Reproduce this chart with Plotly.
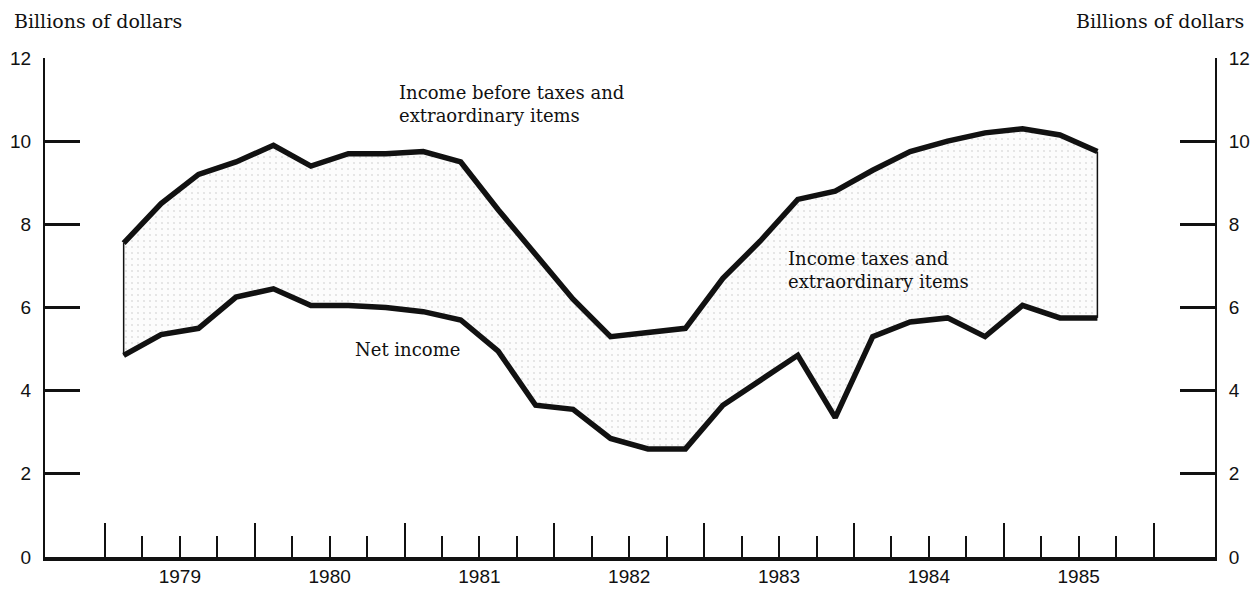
import plotly.graph_objects as go

# Quarterly observations, 1979:Q1 - 1985:Q3 (billions of dollars)
quarters = [
    "1979Q1", "1979Q2", "1979Q3", "1979Q4",
    "1980Q1", "1980Q2", "1980Q3", "1980Q4",
    "1981Q1", "1981Q2", "1981Q3", "1981Q4",
    "1982Q1", "1982Q2", "1982Q3", "1982Q4",
    "1983Q1", "1983Q2", "1983Q3", "1983Q4",
    "1984Q1", "1984Q2", "1984Q3", "1984Q4",
    "1985Q1", "1985Q2", "1985Q3",
]
income_before_taxes = [
    7.55, 8.5, 9.2, 9.5,
    9.9, 9.4, 9.7, 9.7,
    9.75, 9.5, 8.35, 7.25,
    6.2, 5.3, 5.4, 5.5,
    6.7, 7.6, 8.6, 8.8,
    9.3, 9.75, 10.0, 10.2,
    10.3, 10.15, 9.75,
]
net_income = [
    4.85, 5.35, 5.5, 6.25,
    6.45, 6.05, 6.05, 6.0,
    5.9, 5.7, 4.95, 3.65,
    3.55, 2.85, 2.6, 2.6,
    3.65, 4.25, 4.85, 3.35,
    5.3, 5.65, 5.75, 5.3,
    6.05, 5.75, 5.75,
]
year_ticks = [1979, 1980, 1981, 1982, 1983, 1984, 1985, 1986]
year_labels = ["1979", "1980", "1981", "1982", "1983", "1984", "1985"]
y_ticks = [0, 2, 4, 6, 8, 10, 12]

# Plot each quarter at the middle of its span on a continuous year scale
x = [int(q[:4]) + (int(q[-1]) - 0.5) / 4 for q in quarters]
quarter_marks = [y + k / 4 for y in year_ticks[:-1] for k in (1, 2, 3)]

INK = "#111111"
SERIF = "DejaVu Serif, Liberation Serif, serif"
SANS = "Liberation Sans, Arial, sans-serif"

fig = go.Figure()

# Stippled band between the two series
fig.add_trace(go.Scatter(x=x, y=income_before_taxes, mode="lines",
                         line=dict(width=0), hoverinfo="skip"))
fig.add_trace(go.Scatter(
    x=x, y=net_income, mode="lines", line=dict(width=0), fill="tonexty",
    fillcolor="rgba(0,0,0,0)",
    fillpattern=dict(shape=".", fgcolor="#c4c4c4", bgcolor="#fcfcfc",
                     size=6, solidity=0.1),
    hoverinfo="skip"))

# Thin closing edges at both ends of the band
for i in (0, -1):
    fig.add_trace(go.Scatter(x=[x[i], x[i]],
                             y=[net_income[i], income_before_taxes[i]],
                             mode="lines", line=dict(color=INK, width=1.5)))

# The two heavy series lines
fig.add_trace(go.Scatter(x=x, y=income_before_taxes, mode="lines",
                         line=dict(color=INK, width=5.5)))
fig.add_trace(go.Scatter(x=x, y=net_income, mode="lines",
                         line=dict(color=INK, width=5.5)))

# Invisible traces so the label axis and right-hand axis are rendered
fig.add_trace(go.Scatter(x=x, y=net_income, xaxis="x2", mode="lines",
                         line=dict(width=0), hoverinfo="skip"))
fig.add_trace(go.Scatter(x=x, y=net_income, yaxis="y2", mode="lines",
                         line=dict(width=0), hoverinfo="skip"))

x_range = [1978.6, 1986.41]
y_axis_common = dict(
    range=[0, 12], tickvals=y_ticks, ticks="inside", ticklen=35,
    tickwidth=2.5, tickcolor=INK, showline=True, linewidth=2,
    linecolor=INK, showgrid=False, zeroline=False, automargin=False,
    tickfont=dict(family=SANS, size=19, color=INK), ticklabelstandoff=8,
)

fig.update_layout(
    width=1250, height=594,
    margin=dict(l=45, r=35, t=58, b=37, autoexpand=False),
    paper_bgcolor="white", plot_bgcolor="white",
    showlegend=False,
    xaxis=dict(
        range=x_range, tickvals=year_ticks, ticks="inside", ticklen=34,
        tickwidth=2, tickcolor=INK, showticklabels=False,
        showline=True, linewidth=4, linecolor=INK,
        showgrid=False, zeroline=False, automargin=False,
        minor=dict(tickvals=quarter_marks, ticks="inside", ticklen=21,
                   tickwidth=2, tickcolor=INK, showgrid=False),
    ),
    xaxis2=dict(
        range=x_range, overlaying="x", anchor="y", side="bottom",
        tickvals=[y + 0.5 for y in year_ticks[:-1]], ticktext=year_labels,
        ticks="", showline=False, showgrid=False, zeroline=False,
        automargin=False, ticklabelstandoff=6,
        tickfont=dict(family=SANS, size=19, color=INK),
    ),
    yaxis=dict(side="left", **y_axis_common),
    yaxis2=dict(side="right", overlaying="y", anchor="x", **y_axis_common),
)

unit_font = dict(family=SERIF, size=19, color=INK)
fig.add_annotation(text="Billions of dollars", xref="paper", yref="paper",
                   x=-0.0282, y=1.074, xanchor="left", yanchor="middle",
                   showarrow=False, font=unit_font)
fig.add_annotation(text="Billions of dollars", xref="paper", yref="paper",
                   x=1.0265, y=1.074, xanchor="right", yanchor="middle",
                   showarrow=False, font=unit_font)

label_font = dict(family=SERIF, size=18, color=INK)
fig.add_annotation(text="Income before taxes and<br>extraordinary items",
                   x=1980.95, y=10.89, xanchor="left", yanchor="middle",
                   align="left", showarrow=False, font=label_font)
fig.add_annotation(text="Income taxes and<br>extraordinary items",
                   x=1983.547, y=6.9, xanchor="left", yanchor="middle",
                   align="left", showarrow=False, font=label_font)
fig.add_annotation(text="Net income", x=1980.656, y=4.98,
                   xanchor="left", yanchor="middle", align="left",
                   showarrow=False, font=label_font)

fig.write_html("out.html")
